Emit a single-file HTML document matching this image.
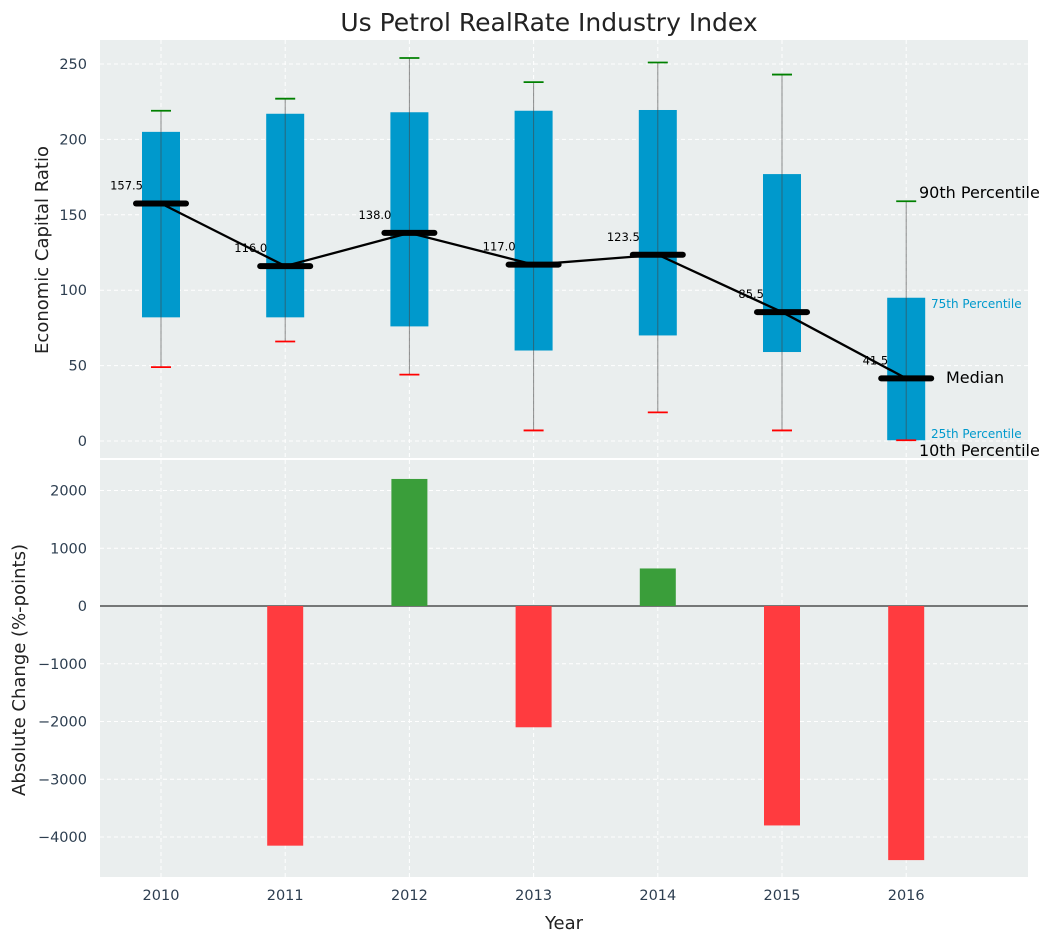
<!DOCTYPE html>
<html><head><meta charset="utf-8"><style>
body{margin:0;background:#fff;font-family:"Liberation Sans",sans-serif}
svg text{font-family:"DejaVu Sans","Liberation Sans",sans-serif}
</style></head><body>
<svg id="chart" width="1054" height="942" xmlns="http://www.w3.org/2000/svg"></svg>
<script>
const years=[2010,2011,2012,2013,2014,2015,2016];
const p10=[49,66,44,7,19,7,0.5];
const q25=[82,82,76,60,70,59,0.5];
const medians=[157.5,116,138,117,123.5,85.5,41.5];
const q75=[205,217,218,219,219.5,177,95];
const p90=[219,227,254,238,251,243,159];
const changes=[0,-4150,2200,-2100,650,-3800,-4400];
const topTicks=[0,50,100,150,200,250];
const botTicks=[-4000,-3000,-2000,-1000,0,1000,2000];

const NS="http://www.w3.org/2000/svg";
const svg=document.getElementById('chart');
function el(tag,attrs,parent){const e=document.createElementNS(NS,tag);for(const k in attrs)e.setAttribute(k,attrs[k]);(parent||svg).appendChild(e);return e;}
const L=100,R=1028;
const x=i=>161+i*124.2;
const yT=v=>441-v*1.508;
const yB=v=>606-v*0.05775;

let bg=el('rect',{x:L,y:40,width:R-L,height:418,fill:'#eaeeee'});

let bg2=el('rect',{x:L,y:460,width:R-L,height:417,fill:'#eaeeee'});


years.forEach((yr,i)=>{
  el('line',{x1:x(i),x2:x(i),y1:40,y2:458,stroke:'#fff','stroke-dasharray':'4,3'});
  el('line',{x1:x(i),x2:x(i),y1:460,y2:877,stroke:'#fff','stroke-dasharray':'4,3'});
  const t=el('text',{x:x(i),y:900,'text-anchor':'middle','font-size':14.5,fill:'#2d3e50'});
  t.textContent=yr;
  
  
});
topTicks.forEach(v=>{
  el('line',{x1:L,x2:R,y1:yT(v),y2:yT(v),stroke:'#fff','stroke-dasharray':'4,3'});
  const t=el('text',{x:87,y:yT(v)+5,'text-anchor':'end','font-size':14.5,fill:'#2d3e50'});
  t.textContent=v;
  
  
});
botTicks.forEach(v=>{
  el('line',{x1:L,x2:R,y1:yB(v),y2:yB(v),stroke:'#fff','stroke-dasharray':'4,3'});
  const t=el('text',{x:87,y:yB(v)+5,'text-anchor':'end','font-size':14.5,fill:'#2d3e50'});
  t.textContent=(v<0?'\u2212'+(-v):v);
  
  
});

years.forEach((yr,i)=>{
  const b=el('rect',{x:x(i)-19,y:yT(q75[i]),width:38,height:yT(q25[i])-yT(q75[i]),fill:'#0099cc'});
  
  
  el('line',{x1:x(i),x2:x(i),y1:yT(p10[i]),y2:yT(p90[i]),stroke:'#444','stroke-opacity':0.6,'stroke-width':1});
  const c1=el('line',{x1:x(i)-10,x2:x(i)+10,y1:yT(p90[i]),y2:yT(p90[i]),stroke:'green','stroke-width':1.8});
  
  
  const c2=el('line',{x1:x(i)-10,x2:x(i)+10,y1:yT(p10[i]),y2:yT(p10[i]),stroke:'red','stroke-width':1.8});
  
  
});
const pl=el('polyline',{points:medians.map((m,i)=>x(i)+','+yT(m)).join(' '),fill:'none',stroke:'#000','stroke-width':2.3});


years.forEach((yr,i)=>{
  const m=el('line',{x1:x(i)-25,x2:x(i)+25,y1:yT(medians[i]),y2:yT(medians[i]),stroke:'#000','stroke-width':6,'stroke-linecap':'round'});
  
  
  const t=el('text',{x:x(i)-18,y:yT(medians[i])-14,'text-anchor':'end','font-size':11.5,fill:'#000'});
  t.textContent=medians[i].toFixed(1);
  
  
});

const ann=[['90th Percentile',919,198,16,'#000'],['75th Percentile',931,308,12,'#0099cc'],['Median',946,383,16,'#000'],['25th Percentile',931,438,12,'#0099cc'],['10th Percentile',919,456,16,'#000']];
ann.forEach(a=>{
  const t=el('text',{x:a[1],y:a[2],'font-size':a[3],fill:a[4]});
  t.textContent=a[0];
  
  
});

el('line',{x1:L,x2:R,y1:yB(0),y2:yB(0),stroke:'#000','stroke-width':1});
years.forEach((yr,i)=>{
  const v=changes[i]; if(v===0) return;
  const b=el('rect',{x:x(i)-18,y:Math.min(yB(v),yB(0)),width:36,height:Math.abs(yB(v)-yB(0)),fill:v>0?'#3a9e3a':'#ff3b3f'});
  
  
});

let t=el('text',{x:549,y:31,'text-anchor':'middle','font-size':25,fill:'#222'});t.textContent='Us Petrol RealRate Industry Index';

t=el('text',{x:48,y:250,'text-anchor':'middle','font-size':18,fill:'#222',transform:'rotate(-90 48 250)'});t.textContent='Economic Capital Ratio';

t=el('text',{x:25,y:670,'text-anchor':'middle','font-size':18,fill:'#222',transform:'rotate(-90 25 670)'});t.textContent='Absolute Change (%-points)';

t=el('text',{x:564,y:929,'text-anchor':'middle','font-size':18,fill:'#222'});t.textContent='Year';

</script>
</body></html>
